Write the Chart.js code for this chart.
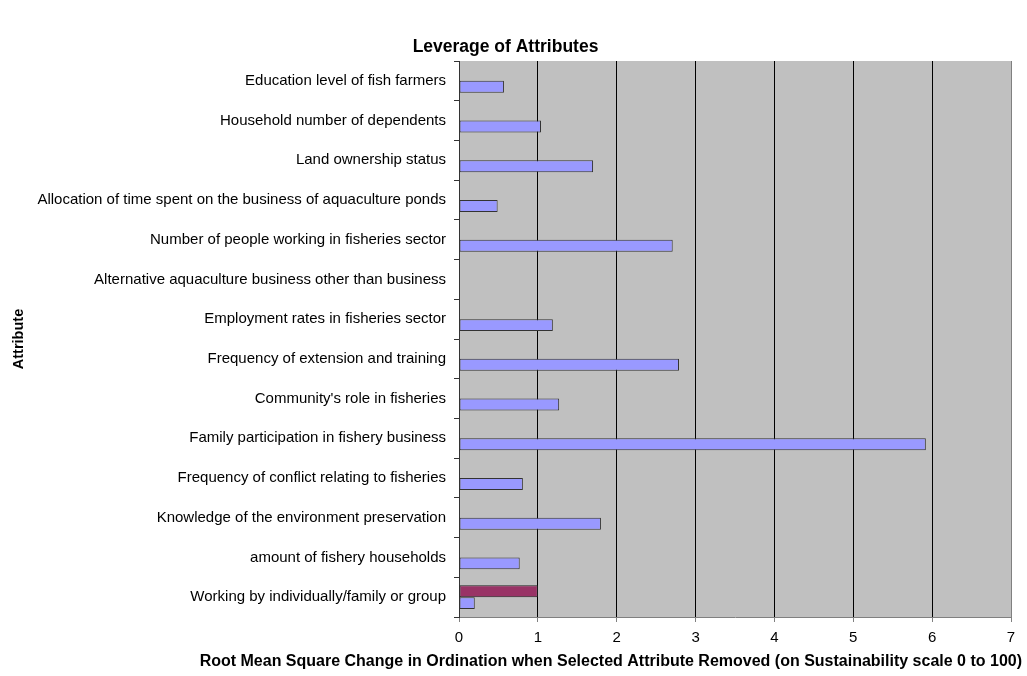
<!DOCTYPE html>
<html>
<head>
<meta charset="utf-8">
<script src="https://cdn.jsdelivr.net/npm/chart.js@4/dist/chart.umd.min.js"></script>
<style>
  html, body { margin: 0; padding: 0; background: #fff; }
  #wrap { width: 1027px; height: 676px; }
</style>
</head>
<body>
<div id="wrap"><canvas id="leverageChart" width="1027" height="676"></canvas></div>
<script>
// attributes, top to bottom as shown
var categories = [
    "Education level of fish farmers",
    "Household number of dependents",
    "Land ownership status",
    "Allocation of time spent on the business of aquaculture ponds",
    "Number of people working in fisheries sector",
    "Alternative aquaculture business other than business",
    "Employment rates in fisheries sector",
    "Frequency of extension and training",
    "Community's role in fisheries",
    "Family participation in fishery business",
    "Frequency of conflict relating to fisheries",
    "Knowledge of the environment preservation",
    "amount of fishery households",
    "Working by individually/family or group"
];
var rmsChange = [0.57, 1.04, 1.70, 0.49, 2.71, 0, 1.19, 2.79, 1.27, 5.92, 0.81, 1.80, 0.77, 0.20];
var secondSeries = [null, null, null, null, null, null, null, null, null, null, null, null, null, 1.0];
var xTicks = [0, 1, 2, 3, 4, 5, 6, 7];
var xTitle = 'Root Mean Square Change in Ordination when Selected Attribute Removed (on Sustainability scale 0 to 100)';

var plotBg = {
    id: 'plotBg',
    beforeDraw: function(chart) {
        var a = chart.chartArea, c = chart.ctx;
        c.save();
        c.fillStyle = '#C0C0C0';
        c.fillRect(a.left, a.top, a.right - a.left, a.bottom - a.top);
        c.restore();
    }
};

// the x title is wider than the plot, so draw it ourselves (chart.js would squeeze it)
var xTitlePlugin = {
    id: 'xTitlePlugin',
    afterDraw: function(chart) {
        var a = chart.chartArea, c = chart.ctx;
        c.save();
        c.font = 'bold 16px "Liberation Sans", Arial, sans-serif';
        c.fillStyle = '#000';
        c.textAlign = 'right';
        c.textBaseline = 'middle';
        c.fillText(xTitle, a.right + 11, chart.height - 14);
        c.restore();
    }
};

Chart.defaults.font.family = '"Liberation Sans", Arial, sans-serif';
Chart.defaults.color = '#000';

var ctx = document.getElementById('leverageChart').getContext('2d');
new Chart(ctx, {
    type: 'bar',
    data: {
        labels: categories,
        datasets: [{
            data: secondSeries,
            backgroundColor: '#993366',
            borderColor: '#222',
            borderWidth: 1,
            borderSkipped: false
        }, {
            data: rmsChange,
            backgroundColor: '#9999FF',
            borderColor: '#333',
            borderWidth: 1,
            borderSkipped: false
        }]
    },
    options: {
        indexAxis: 'y',
        responsive: false,
        animation: false,
        categoryPercentage: 0.6,
        barPercentage: 1.0,
        layout: { padding: { left: 0, right: 16, top: 0, bottom: 22 } },
        plugins: {
            legend: { display: false },
            tooltip: { enabled: false },
            title: {
                display: true,
                text: 'Leverage of Attributes',
                font: { size: 17.5, weight: 'bold' },
                color: '#000',
                padding: { top: 37, bottom: 3 }
            }
        },
        scales: {
            x: {
                min: 0,
                max: 7,
                afterBuildTicks: function(scale) {
                    scale.ticks = xTicks.map(function(v) { return { value: v }; });
                },
                grid: {
                    color: function(c) {
                        return (c.tick && (c.tick.value === 0 || c.tick.value === 7)) ? '#808080' : '#000';
                    },
                    tickColor: '#808080',
                    tickLength: 5,
                    lineWidth: 1
                },
                border: { color: '#808080', width: 1 },
                ticks: { font: { size: 15 }, color: '#000', padding: 7 }
            },
            y: {
                afterFit: function(scale) { scale.width = 459; },
                grid: {
                    offset: true,
                    drawOnChartArea: false,
                    drawTicks: true,
                    tickLength: 5,
                    tickColor: '#333'
                },
                border: { color: '#333', width: 1 },
                ticks: { font: { size: 15 }, color: '#000', padding: 8, autoSkip: false },
                title: {
                    display: true,
                    text: 'Attribute',
                    font: { size: 14.5, weight: 'bold' },
                    color: '#000',
                    padding: { top: 10, bottom: 4 }
                }
            }
        }
    },
    plugins: [plotBg, xTitlePlugin]
});
</script>
</body>
</html>
